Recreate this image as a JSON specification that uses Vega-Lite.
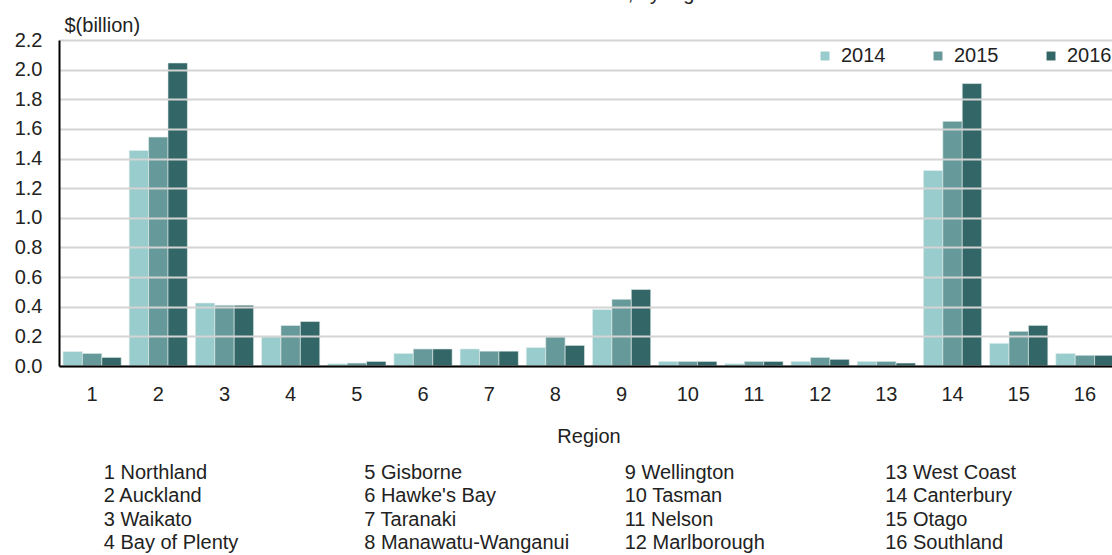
{
  "$schema": "https://vega.github.io/schema/vega-lite/v6.json",
  "padding": {"left": 14, "top": -16, "right": 0, "bottom": 0},
  "title": {"text": "Year ended June, by region", "fontSize": 20, "font": "Liberation Sans", "fontWeight": "normal", "color": "#222222", "offset": 11, "anchor": "middle", "dx": 33},
  "config": {
    "font": "Liberation Sans",
    "view": {"stroke": null},
    "axis": {"labelColor": "#222222", "titleColor": "#222222", "labelFont": "Liberation Sans", "titleFont": "Liberation Sans"}
  },
  "spacing": 17,
  "vconcat": [
    {
      "width": 1059,
      "height": 326,
      "data": {"values": [
        {"region": 1, "year": "2014", "value": 0.098}, {"region": 1, "year": "2015", "value": 0.085}, {"region": 1, "year": "2016", "value": 0.058},
        {"region": 2, "year": "2014", "value": 1.455}, {"region": 2, "year": "2015", "value": 1.545}, {"region": 2, "year": "2016", "value": 2.045},
        {"region": 3, "year": "2014", "value": 0.425}, {"region": 3, "year": "2015", "value": 0.41}, {"region": 3, "year": "2016", "value": 0.41},
        {"region": 4, "year": "2014", "value": 0.196}, {"region": 4, "year": "2015", "value": 0.274}, {"region": 4, "year": "2016", "value": 0.3},
        {"region": 5, "year": "2014", "value": 0.015}, {"region": 5, "year": "2015", "value": 0.02}, {"region": 5, "year": "2016", "value": 0.031},
        {"region": 6, "year": "2014", "value": 0.085}, {"region": 6, "year": "2015", "value": 0.115}, {"region": 6, "year": "2016", "value": 0.115},
        {"region": 7, "year": "2014", "value": 0.115}, {"region": 7, "year": "2015", "value": 0.1}, {"region": 7, "year": "2016", "value": 0.1},
        {"region": 8, "year": "2014", "value": 0.125}, {"region": 8, "year": "2015", "value": 0.196}, {"region": 8, "year": "2016", "value": 0.139},
        {"region": 9, "year": "2014", "value": 0.382}, {"region": 9, "year": "2015", "value": 0.45}, {"region": 9, "year": "2016", "value": 0.517},
        {"region": 10, "year": "2014", "value": 0.031}, {"region": 10, "year": "2015", "value": 0.031}, {"region": 10, "year": "2016", "value": 0.031},
        {"region": 11, "year": "2014", "value": 0.015}, {"region": 11, "year": "2015", "value": 0.031}, {"region": 11, "year": "2016", "value": 0.031},
        {"region": 12, "year": "2014", "value": 0.031}, {"region": 12, "year": "2015", "value": 0.058}, {"region": 12, "year": "2016", "value": 0.045},
        {"region": 13, "year": "2014", "value": 0.031}, {"region": 13, "year": "2015", "value": 0.031}, {"region": 13, "year": "2016", "value": 0.02},
        {"region": 14, "year": "2014", "value": 1.32}, {"region": 14, "year": "2015", "value": 1.651}, {"region": 14, "year": "2016", "value": 1.906},
        {"region": 15, "year": "2014", "value": 0.153}, {"region": 15, "year": "2015", "value": 0.234}, {"region": 15, "year": "2016", "value": 0.274},
        {"region": 16, "year": "2014", "value": 0.085}, {"region": 16, "year": "2015", "value": 0.072}, {"region": 16, "year": "2016", "value": 0.072}
      ]},
      "mark": {"type": "bar", "stroke": "#e6eeee", "strokeWidth": 0.6},
      "encoding": {
        "x": {
          "field": "region", "type": "ordinal",
          "scale": {"paddingInner": 0.12, "paddingOuter": 0.06},
          "axis": {"title": "Region", "labelAngle": 0, "ticks": false, "domainColor": "#000000", "domainWidth": 2, "zindex": 1, "labelFontSize": 20, "labelPadding": 18, "titleFontSize": 20, "titleFontWeight": "normal", "titlePadding": 22}
        },
        "xOffset": {"field": "year", "type": "nominal"},
        "y": {
          "field": "value", "type": "quantitative",
          "scale": {"domain": [0, 2.2], "nice": false},
          "axis": {"values": [0, 0.2, 0.4, 0.6, 0.8, 1.0, 1.2, 1.4, 1.6, 1.8, 2.0, 2.2], "format": ".1f", "title": "$(billion)", "titleAngle": 0, "titleX": 5, "titleY": -9, "titleAlign": "left", "titleBaseline": "alphabetic", "titleFontSize": 20, "titleFontWeight": "normal", "labelFontSize": 20, "ticks": false, "domainColor": "#000000", "domainWidth": 2, "zindex": 1, "gridColor": "#d4d4d4", "gridWidth": 2, "labelPadding": 17}
        },
        "color": {
          "field": "year", "type": "nominal",
          "scale": {"range": ["#99cccc", "#669999", "#336666"]},
          "legend": {"orient": "top-right", "direction": "horizontal", "title": null, "symbolType": "square", "symbolSize": 80, "symbolStrokeWidth": 0, "labelOffset": 6, "labelFontSize": 20, "labelColor": "#222222", "labelFont": "Liberation Sans", "columnPadding": 42, "offset": 6}
        }
      }
    },
    {
      "width": 1059,
      "height": 70,
      "data": {"values": [
        {"label": "1 Northland", "col": 1, "row": 1},
        {"label": "2 Auckland", "col": 1, "row": 2},
        {"label": "3 Waikato", "col": 1, "row": 3},
        {"label": "4 Bay of Plenty", "col": 1, "row": 4},
        {"label": "5 Gisborne", "col": 2, "row": 1},
        {"label": "6 Hawke's Bay", "col": 2, "row": 2},
        {"label": "7 Taranaki", "col": 2, "row": 3},
        {"label": "8 Manawatu-Wanganui", "col": 2, "row": 4},
        {"label": "\u20079 Wellington", "col": 3, "row": 1},
        {"label": "10 Tasman", "col": 3, "row": 2},
        {"label": "11 Nelson", "col": 3, "row": 3},
        {"label": "12 Marlborough", "col": 3, "row": 4},
        {"label": "13 West Coast", "col": 4, "row": 1},
        {"label": "14 Canterbury", "col": 4, "row": 2},
        {"label": "15 Otago", "col": 4, "row": 3},
        {"label": "16 Southland", "col": 4, "row": 4}
      ]},
      "mark": {"type": "text", "align": "left", "baseline": "alphabetic", "fontSize": 20, "color": "#222222", "font": "Liberation Sans"},
      "encoding": {
        "x": {"field": "col", "type": "quantitative", "scale": {"domain": [0.828, 4.894]}, "axis": null},
        "y": {"field": "row", "type": "quantitative", "scale": {"domain": [1, 4], "reverse": true}, "axis": null},
        "text": {"field": "label"}
      }
    }
  ]
}
